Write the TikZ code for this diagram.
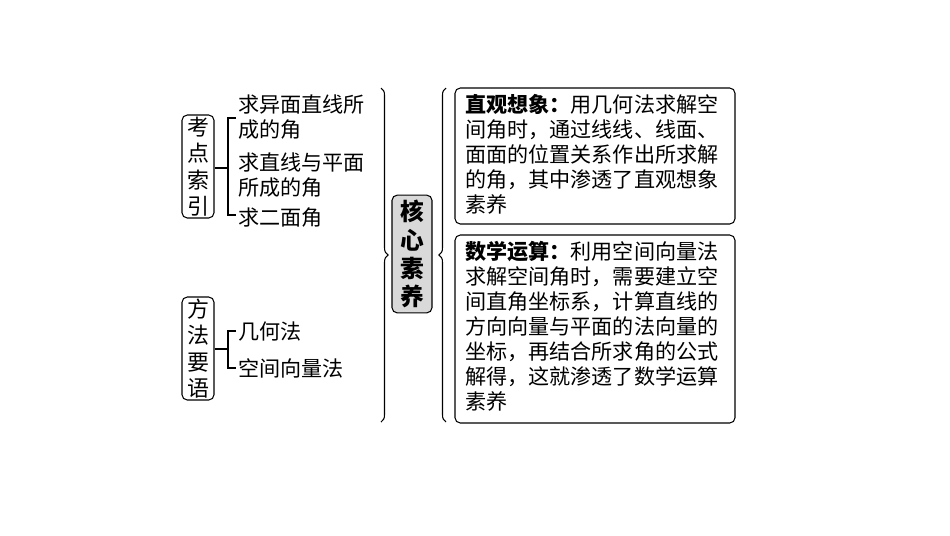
\documentclass[tikz,border=0pt]{standalone}
\usepackage{fontspec}
\newfontfamily\cjk{Noto Sans CJK SC}
\usetikzlibrary{decorations.pathreplacing,calc}
\begin{document}
\begin{tikzpicture}[x=0.02cm,y=-0.02cm,
  every node/.style={font=\cjk\fontsize{12}{14.2}\selectfont},
  rbox/.style={draw,rounded corners=3pt,line width=0.6pt},
  vtext/.style={rbox,inner sep=0pt,minimum width=32*0.02cm,align=center,font=\cjk\fontsize{12.5}{15}\selectfont},
  item/.style={anchor=west,inner sep=0pt,align=left},
  ln/.style={line width=0.6pt},
  brc/.style={line width=0.6pt,decorate,decoration={brace,amplitude=4pt}}]
\useasboundingbox (0,0) rectangle (950,535);
% left group 1
\node[vtext,minimum height=103*0.02cm] (kd) at (198,166.5) {考\\点\\索\\引};
\node[item] (t1) at (238,117) {求异面直线所\\成的角};
\node[item] (t2) at (238,175) {求直线与平面\\所成的角};
\node[item] (t3) at (238,218) {求二面角};
\coordinate (b1t) at (228,118);
\coordinate (b1b) at (228,215);
\draw[ln] (kd.east|-0,168) -- (228,168);
\draw[ln] ($(b1t)+(8,0)$) -- (b1t) -- (b1b) -- ++(8,0);
% left group 2
\node[vtext,minimum height=103*0.02cm] (ff) at (198,348.5) {方\\法\\要\\语};
\node[item] (t4) at (238,332) {几何法};
\node[item] (t5) at (238,368) {空间向量法};
\draw[ln] (ff.east|-0,349) -- (228,349);
\draw[ln] (236,331) -- (228,331) -- (228,368) -- (236,368);
% center
\draw[brc] (381,88) -- (381,422);
\node[rbox,fill=gray!30,inner sep=3pt,minimum width=40*0.02cm,minimum height=108*0.02cm,align=center,font=\cjk\bfseries\fontsize{13.5}{16}\selectfont] (hx) at (412,254) {核\\心\\素\\养};
\draw[brc] (446,422) -- (446,88);
% right boxes
\node[rbox,minimum width=280*0.02cm,minimum height=136*0.02cm] (r1) at (595,156) {};
\node[item,anchor=north west] (r1t) at (465,94) {{\bfseries 直观想象：}用几何法求解空\\间角时，通过线线、线面、\\面面的位置关系作出所求解\\的角，其中渗透了直观想象\\素养};
\node[rbox,minimum width=280*0.02cm,minimum height=188*0.02cm] (r2) at (595,329) {};
\node[item,anchor=north west] (r2t) at (465,241) {{\bfseries 数学运算：}利用空间向量法\\求解空间角时，需要建立空\\间直角坐标系，计算直线的\\方向向量与平面的法向量的\\坐标，再结合所求角的公式\\解得，这就渗透了数学运算\\素养};
\end{tikzpicture}
\end{document}
